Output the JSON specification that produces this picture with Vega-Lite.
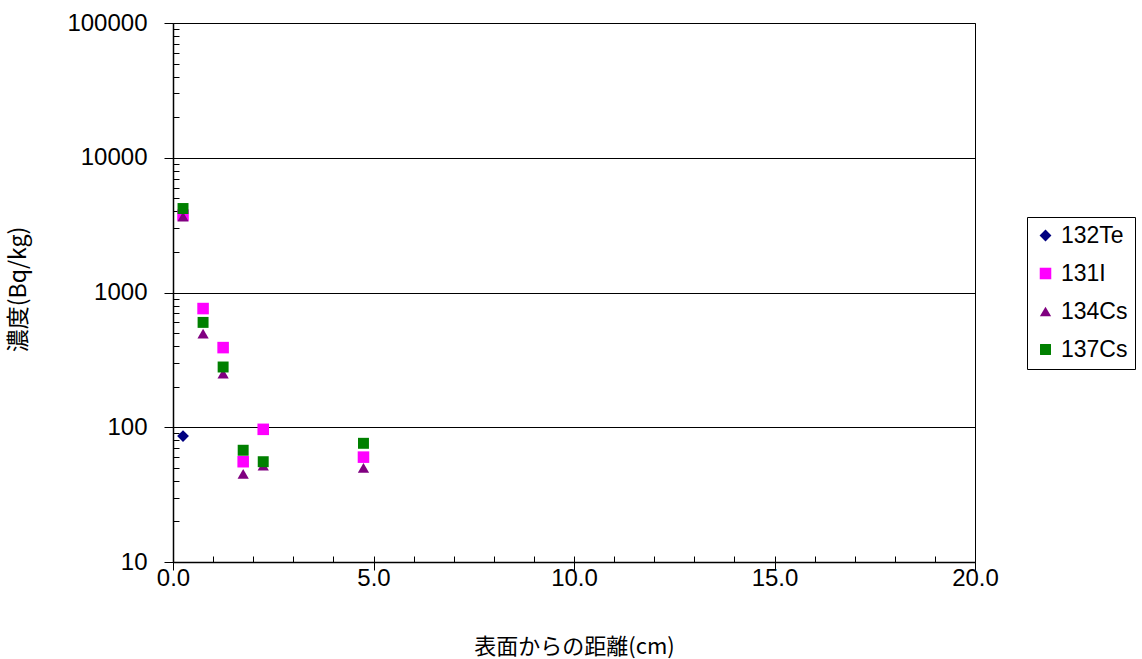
{
  "$schema": "https://vega.github.io/schema/vega-lite/v6.json",
  "width": 802,
  "height": 539,
  "autosize": "none",
  "padding": {"left": 173, "top": 23, "right": 167, "bottom": 97},
  "background": "white",
  "config": {
    "view": {"stroke": "#000", "strokeWidth": 1},
    "font": "Liberation Sans, Arial, sans-serif"
  },
  "data": {
    "values": [
      {"d": 0.25, "s": "132Te", "v": 86},
      {"d": 0.25, "s": "131I", "v": 3750},
      {"d": 0.75, "s": "131I", "v": 760},
      {"d": 1.25, "s": "131I", "v": 390},
      {"d": 1.75, "s": "131I", "v": 55.5},
      {"d": 2.25, "s": "131I", "v": 96.5},
      {"d": 4.75, "s": "131I", "v": 60},
      {"d": 0.25, "s": "134Cs", "v": 3650},
      {"d": 0.75, "s": "134Cs", "v": 495},
      {"d": 1.25, "s": "134Cs", "v": 250},
      {"d": 1.75, "s": "134Cs", "v": 45},
      {"d": 2.25, "s": "134Cs", "v": 52},
      {"d": 4.75, "s": "134Cs", "v": 50},
      {"d": 0.25, "s": "137Cs", "v": 4200},
      {"d": 0.75, "s": "137Cs", "v": 600},
      {"d": 1.25, "s": "137Cs", "v": 280},
      {"d": 1.75, "s": "137Cs", "v": 67.5},
      {"d": 2.25, "s": "137Cs", "v": 55.5},
      {"d": 4.75, "s": "137Cs", "v": 76}
    ]
  },
  "layer": [
    {
      "mark": {"type": "point", "filled": true, "size": 0, "opacity": 0},
      "encoding": {
        "x": {
          "field": "d", "type": "quantitative",
          "scale": {"domain": [0, 20], "nice": false, "zero": false},
          "axis": {
            "orient": "bottom", "values": [1,2,3,4,5,6,7,8,9,10,11,12,13,14,15,16,17,18,19],
            "labels": false, "domain": false, "grid": false, "title": null,
            "tickSize": -6, "tickColor": "#000", "tickWidth": 1
          }
        },
        "y": {
          "field": "v", "type": "quantitative",
          "scale": {"type": "log", "domain": [10, 100000], "nice": false},
          "axis": {
            "orient": "left",
            "values": [20,30,40,50,60,70,80,90,100,200,300,400,500,600,700,800,900,1000,2000,3000,4000,5000,6000,7000,8000,9000,10000,20000,30000,40000,50000,60000,70000,80000,90000],
            "labels": false, "domain": false, "grid": false, "title": null,
            "tickSize": -6, "tickColor": "#000", "tickWidth": 1
          }
        }
      }
    },
    {
      "mark": {"type": "point", "filled": true, "opacity": 1, "strokeWidth": 0},
      "encoding": {
        "x": {
          "field": "d", "type": "quantitative",
          "scale": {"domain": [0, 20], "nice": false, "zero": false},
          "axis": {
            "orient": "bottom", "values": [0, 5, 10, 15, 20], "format": ".1f",
            "grid": false, "domainColor": "#000", "domainWidth": 1.5,
            "tickColor": "#000", "tickSize": 8, "tickWidth": 1,
            "labelFontSize": 24, "labelColor": "#000", "labelPadding": -4,
            "labelFlush": false, "labelOverlap": false,
            "labelFont": "Liberation Sans, Arial, sans-serif",
            "title": "表面からの距離(cm)", "titleFont": "Noto Sans CJK JP",
            "titleFontSize": 22, "titleFontWeight": "normal", "titleColor": "#000",
            "titleX": 401, "titleY": 84, "titleBaseline": "middle", "titleAlign": "center"
          }
        },
        "y": {
          "field": "v", "type": "quantitative",
          "scale": {"type": "log", "domain": [10, 100000], "nice": false},
          "axis": {
            "orient": "left", "values": [10, 100, 1000, 10000, 100000], "format": "d",
            "grid": true, "gridColor": "#000", "gridWidth": 1,
            "domainColor": "#000", "domainWidth": 1.5,
            "tickColor": "#000", "tickSize": 9, "tickWidth": 1,
            "labelFontSize": 24, "labelColor": "#000", "labelPadding": 17,
            "labelFlush": false, "labelOverlap": false,
            "labelFont": "Liberation Sans, Arial, sans-serif",
            "title": "濃度(Bq/kg)", "titleFont": "Noto Sans CJK JP",
            "titleFontSize": 23, "titleFontWeight": "normal", "titleColor": "#000",
            "titleX": -155, "titleY": 266, "titleBaseline": "middle", "titleAlign": "center", "titleAngle": -90
          }
        },
        "color": {
          "field": "s", "type": "nominal",
          "scale": {"domain": ["132Te", "131I", "134Cs", "137Cs"], "range": ["#000080", "#FF00FF", "#800080", "#008000"]},
          "legend": {
            "title": null, "orient": "none", "legendX": 854, "legendY": 194,
            "labelFontSize": 23, "labelColor": "#000", "labelFont": "Liberation Sans, Arial, sans-serif",
            "symbolSize": 100, "rowPadding": 14, "labelOffset": 4, "symbolOffset": 0,
            "strokeColor": "#000", "padding": 7, "symbolStrokeWidth": 0
          }
        },
        "shape": {
          "field": "s", "type": "nominal",
          "scale": {"domain": ["132Te", "131I", "134Cs", "137Cs"], "range": ["diamond", "square", "triangle-up", "square"]}
        },
        "size": {
          "field": "s", "type": "nominal",
          "scale": {"domain": ["132Te", "131I", "134Cs", "137Cs"], "range": [140, 120, 250, 120]},
          "legend": null
        }
      }
    }
  ],
  "resolve": {"axis": {"x": "independent", "y": "independent"}}
}
